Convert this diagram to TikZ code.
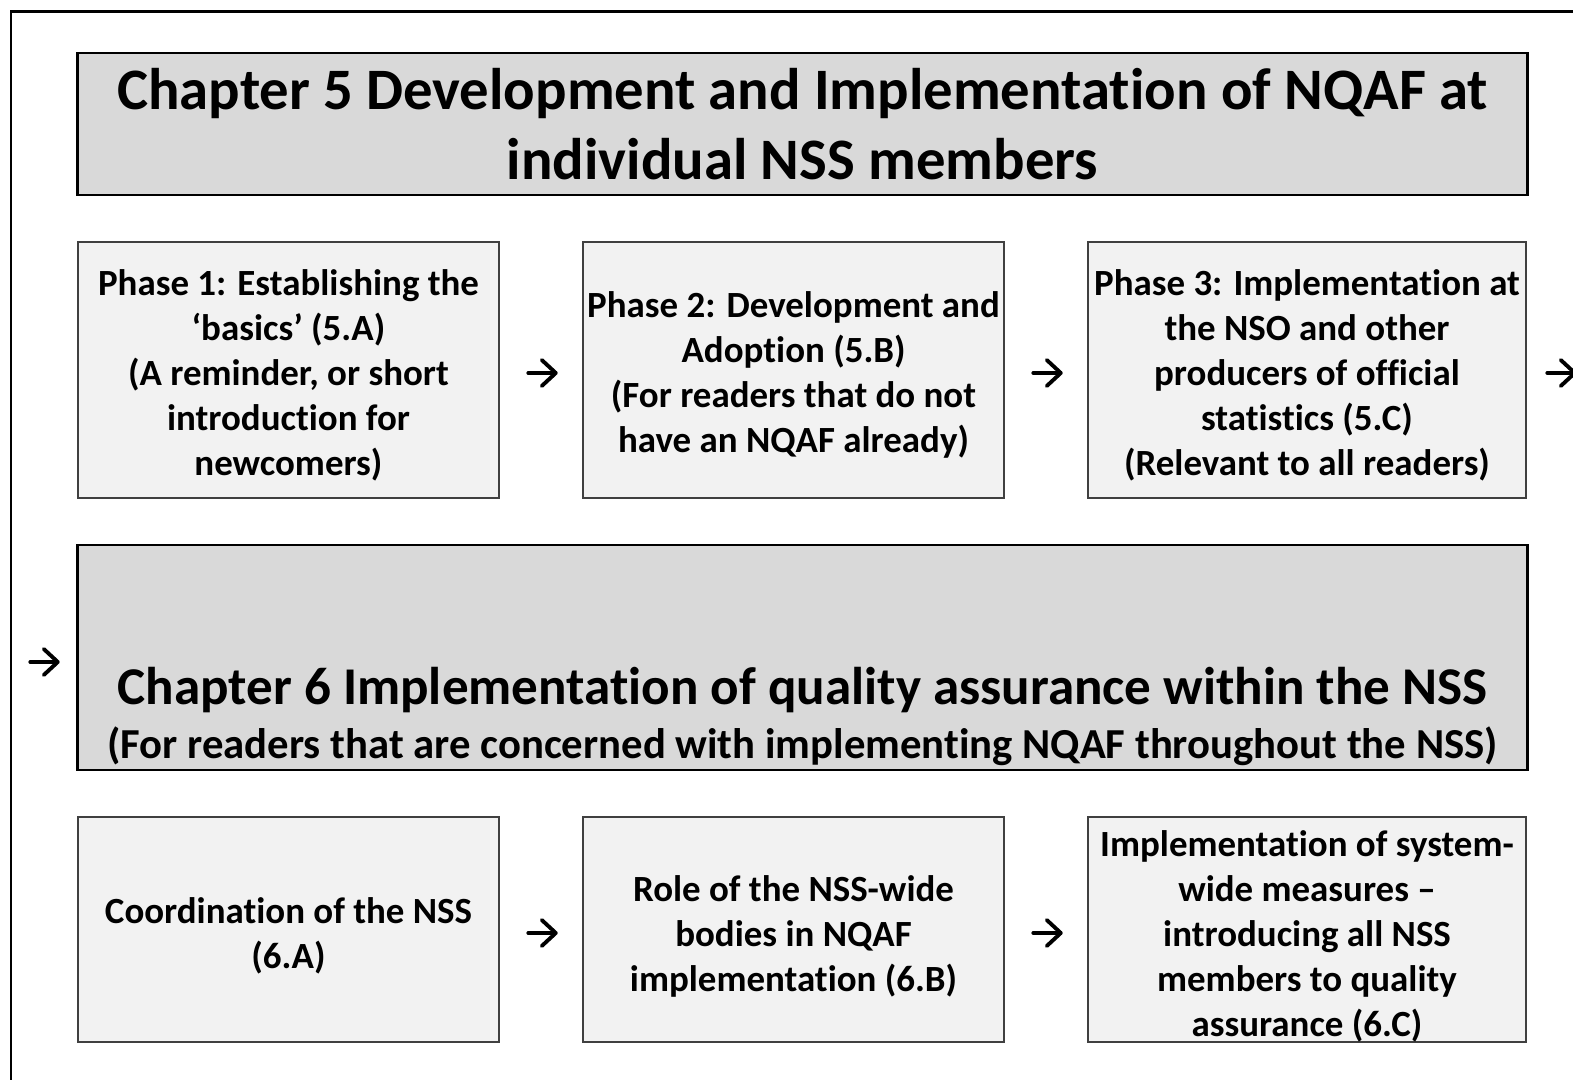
\documentclass[tikz,border=0pt]{standalone}
\usepackage{fontspec}
\usetikzlibrary{arrows.meta}
\setmainfont{Carlito}[RawFeature={-liga;-dlig;-clig}]
\definecolor{hdr}{HTML}{D9D9D9}
\definecolor{lite}{HTML}{F2F2F2}
\definecolor{edge}{HTML}{404040}
\begin{document}
\begin{tikzpicture}[x=0.01cm,y=-0.01cm,
  hdrbox/.style={draw=black, line width=0.75pt, fill=hdr, inner sep=0pt, minimum width=14.49cm},
  phasebox/.style={draw=edge, line width=0.55pt, fill=lite, inner sep=0pt},
  phasetext/.style={inner sep=0pt, align=center, font=\bfseries\fontsize{10.5pt}{12.8pt}\selectfont},
  arrmark/.style={inner sep=0pt, minimum width=0.28cm, minimum height=0.25cm},
  arrline/.style={line width=1.1pt, line cap=round, line join=round,
     -{Straight Barb[length=0.14cm, width=0.26cm, line cap=round, line join=round]}}
]
\useasboundingbox (0,0) rectangle (1573,1080);
\fill[white] (0,0) rectangle (1573,1080);
% outer frame
\draw[line width=0.85pt] (11,1080) -- (11,12) -- (1573,12);

% Chapter 5 header
\node[hdrbox, minimum height=1.42cm, align=center,
  font=\bfseries\fontsize{16.7pt}{19.9pt}\selectfont] (ch5) at (802.5,124)
  {Chapter 5 Development and Implementation of NQAF at\\individual NSS members};

% Row 1
\node[phasebox, minimum width=4.21cm, minimum height=2.56cm] (p1) at (288.5,370) {};
\node[phasetext] (p1t) at (288.5,375)
  {Phase 1: Establishing the\\‘basics’ (5.A)\\(A reminder, or short\\introduction for\\newcomers)};
\node[phasebox, minimum width=4.21cm, minimum height=2.56cm] (p2) at (793.5,370) {};
\node[phasetext] (p2t) at (793.5,375)
  {Phase 2: Development and\\Adoption (5.B)\\(For readers that do not\\have an NQAF already)};
\node[phasebox, minimum width=4.38cm, minimum height=2.56cm] (p3) at (1307,370) {};
\node[phasetext] (p3t) at (1307,375)
  {Phase 3: Implementation at\\the NSO and other\\producers of official\\statistics (5.C)\\(Relevant to all readers)};

\node[arrmark] (a1) at (543,373) {};
\node[arrmark] (a2) at (1048,373) {};
\node[arrmark] (a3) at (1562,373) {};
\node[arrmark] (a4) at (45,662) {};
\draw[arrline] (a1.west) -- (a1.east);
\draw[arrline] (a2.west) -- (a2.east);
\draw[arrline] (a3.west) -- (a3.east);
\draw[arrline] (a4.west) -- (a4.east);

% Chapter 6 header
\node[hdrbox, minimum height=2.25cm] (ch6) at (802.5,657.5) {};
\node[inner sep=0pt, font=\bfseries\fontsize{15.1pt}{18pt}\selectfont] (ch6a) at (802.5,690)
  {Chapter 6 Implementation of quality assurance within the NSS};
\node[inner sep=0pt, font=\bfseries\fontsize{12.15pt}{14pt}\selectfont] (ch6b) at (802.5,746)
  {(For readers that are concerned with implementing NQAF throughout the NSS)};

% Row 2
\node[phasebox, minimum width=4.21cm, minimum height=2.25cm] (q1) at (288.5,929.5) {};
\node[phasetext] (q1t) at (288.5,936) {Coordination of the NSS\\(6.A)};
\node[phasebox, minimum width=4.21cm, minimum height=2.25cm] (q2) at (793.5,929.5) {};
\node[phasetext] (q2t) at (793.5,936) {Role of the NSS-wide\\bodies in NQAF\\implementation (6.B)};
\node[phasebox, minimum width=4.38cm, minimum height=2.25cm] (q3) at (1307,929.5) {};
\node[phasetext] (q3t) at (1307,936)
  {Implementation of system-\\wide measures –\\introducing all NSS\\members to quality\\assurance (6.C)};

\node[arrmark] (b1) at (543,933) {};
\node[arrmark] (b2) at (1048,933) {};
\draw[arrline] (b1.west) -- (b1.east);
\draw[arrline] (b2.west) -- (b2.east);
\end{tikzpicture}
\end{document}
